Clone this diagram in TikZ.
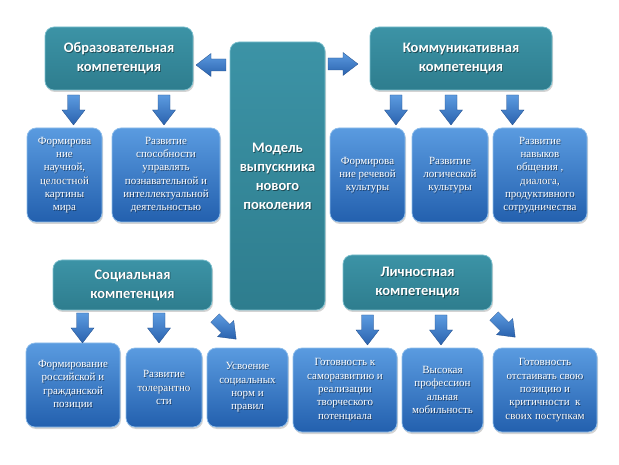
\documentclass[tikz,border=0pt]{standalone}
\usepackage{fontspec}
\setmainfont{Liberation Serif}
\newfontfamily\hdfont{Carlito}
\usetikzlibrary{shadows}
\definecolor{tealtop}{HTML}{3C93A6}
\definecolor{tealbot}{HTML}{2E7D8E}
\definecolor{tealrim}{HTML}{7CC0CE}
\definecolor{bluetop}{HTML}{5A9BE0}
\definecolor{bluebot}{HTML}{2360AE}
\definecolor{bluerim}{HTML}{8DBDEB}
\definecolor{arrtop}{HTML}{5C9BE0}
\definecolor{arrbot}{HTML}{2A62AE}
\tikzset{
  hdbox/.style={rounded corners=9pt, top color=tealtop, bottom color=tealbot,
    draw=tealrim, line width=0.7pt,
    drop shadow={shadow xshift=1pt, shadow yshift=-2pt, opacity=0.35}},
  hdtext/.style={text=white, font=\hdfont\bfseries\fontsize{14.5}{19}\selectfont, align=center, inner sep=0pt},
  subbox/.style={rounded corners=9pt, top color=bluetop, bottom color=bluebot,
    draw=bluerim, line width=0.7pt,
    drop shadow={shadow xshift=1pt, shadow yshift=-2pt, opacity=0.35}},
  subtext/.style={text=white, font=\fontsize{11}{13.3}\selectfont, align=center, inner sep=0pt},
  shadowtext/.style={text=black, text opacity=0.45},
  arrfill/.style={top color=arrtop, bottom color=arrbot, draw=arrbot!80!black, line width=0.3pt},
  barrow/.pic={\path[arrfill] (-6,0) -- (6,0) -- (6,15) -- (11.5,15) -- (0,30) -- (-11.5,15) -- (-6,15) -- cycle;}
}
% #1 box style, #2 text style, #3 name, #4 center, #5 width, #6 height, #7 text
\newcommand\mybox[7]{%
  \node[#1, minimum width=#5pt, minimum height=#6pt] (#3) at (#4) {};
  \node[#2, shadowtext] (#3s) at ([shift={(0.8pt,-0.9pt)}]#3.center) {#7};
  \node[#2] (#3t) at (#3.center) {#7};
}
\begin{document}
\begin{tikzpicture}[x=1pt,y=-1pt]
\useasboundingbox (0,0) rectangle (619,465);
% headers
\mybox{hdbox}{hdtext}{obr}{119,58.5}{148}{63}{Образовательная\\компетенция}
\mybox{hdbox}{hdtext}{kom}{461,58.5}{182}{63}{Коммуникативная\\компетенция}
\mybox{hdbox}{hdtext}{model}{277.5,176}{95}{268}{Модель\\выпускника\\нового\\поколения}
\mybox{hdbox}{hdtext}{soc}{132.5,285}{159}{50}{Социальная\\компетенция}
\mybox{hdbox}{hdtext}{lich}{417.5,282.5}{149}{55}{Личностная\\компетенция}
% row 1
\mybox{subbox}{subtext}{f1}{64.5,175}{75}{94}{Формирова\\ние\\научной,\\целостной\\картины\\мира}
\mybox{subbox}{subtext}{f2}{166,175}{108}{94}{Развитие\\способности\\управлять\\познавательной и\\интеллектуальной\\деятельностью}
\mybox{subbox}{subtext}{k1}{367.5,175}{75}{94}{Формирова\\ние речевой\\культуры}
\mybox{subbox}{subtext}{k2}{450,175}{76}{94}{Развитие\\логической\\культуры}
\mybox{subbox}{subtext}{k3}{540,175}{94}{94}{Развитие\\навыков\\общения ,\\диалога,\\продуктивного\\сотрудничества}
% row 2
\mybox{subbox}{subtext}{s1}{73,385}{94}{84}{Формирование\\российской и\\гражданской\\позиции}
\mybox{subbox}{subtext}{s2}{164,387.5}{76}{79}{Развитие\\толерантно\\сти}
\mybox{subbox}{subtext}{s3}{247.5,387.5}{81}{79}{Усвоение\\социальных\\норм и\\правил}
\mybox{subbox}{subtext}{l1}{345,390}{104}{84}{Готовность к\\саморазвитию и\\реализации\\творческого\\потенциала}
\mybox{subbox}{subtext}{l2}{442.5,390}{81}{84}{Высокая\\профессион\\альная\\мобильность}
\mybox{subbox}{subtext}{l3}{545,390}{104}{84}{Готовность\\отстаивать свою\\позицию и\\критичности~~к\\своих поступкам}
% block arrows
\pic[rotate=-90] at (226,65) {barrow};
\pic[rotate=90] at (328,64) {barrow};
\pic at (73.5,95) {barrow};
\pic at (164,95) {barrow};
\pic at (396,95) {barrow};
\pic at (451,95) {barrow};
\pic at (512.5,95) {barrow};
\pic at (82.5,313) {barrow};
\pic at (159,313) {barrow};
\pic[rotate=45] at (215,318) {barrow};
\pic at (367.5,315) {barrow};
\pic at (441,315) {barrow};
\pic[rotate=45] at (494,316) {barrow};
\end{tikzpicture}
\end{document}
